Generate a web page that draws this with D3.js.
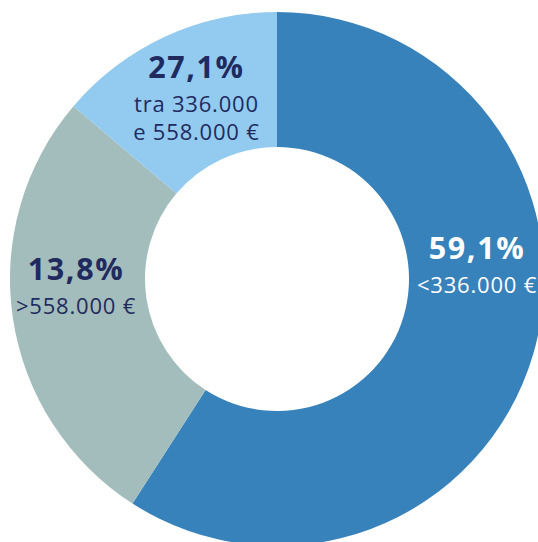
<!DOCTYPE html>
<html lang="it">
<head>
    <meta charset="UTF-8">
    <title>Donut</title>
    <script src="https://d3js.org/d3.v7.min.js"></script>
    <style>
        body { margin: 0; background: #fff; }
        svg { display: block; }
        .pct { font-family: "Open Sans", sans-serif; font-weight: 700; font-size: 30.5px; letter-spacing: 1.6px; text-anchor: middle; }
        .band { font-family: "Open Sans", sans-serif; font-weight: 400; font-size: 22px; letter-spacing: 0.8px; text-anchor: middle; }
    </style>
</head>
<body>
    <div id="chart"></div>
    <script>
        // slice sizes as drawn, clockwise from 12 o'clock
        const shares = [59.1, 27.1, 13.8];
        const colors = ["#3782bb", "#a3bcbc", "#93caf0"];
        // texts printed on each slice
        const pctLabels = ["59,1%", "13,8%", "27,1%"];
        const bandLabels = [["<336.000 €"], [">558.000 €"], ["tra 336.000", "e 558.000 €"]];
        const textColors = ["#ffffff", "#1f2b5e", "#1f2b5e"];
        // anchor of each label (baseline of the percentage): degrees clockwise from top, distance from centre
        const labelAngle = [84.4, 269.7, 338.2];
        const labelRadius = [201, 201, 217];

        const width = 538, height = 542;
        const cx = 277, cy = 279;
        const outerR = 267, innerR = 132;
        const firstGap = 34, lineH = 28;

        const svg = d3.select("#chart").append("svg")
            .attr("width", width)
            .attr("height", height);

        const g = svg.append("g").attr("transform", `translate(${cx},${cy})`);

        const pie = d3.pie().sort(null).value(d => d);
        const arc = d3.arc().innerRadius(innerR).outerRadius(outerR);

        g.selectAll("path")
            .data(pie(shares))
            .join("path")
            .attr("d", arc)
            .attr("fill", (d, i) => colors[i]);

        // labels
        shares.forEach((s, i) => {
            const [x, y] = d3.pointRadial(labelAngle[i] * Math.PI / 180, labelRadius[i]);
            const t = g.append("g").attr("fill", textColors[i]);
            t.append("text")
                .attr("class", "pct")
                .attr("x", x)
                .attr("y", y)
                .text(pctLabels[i]);
            bandLabels[i].forEach((txt, j) => {
                t.append("text")
                    .attr("class", "band")
                    .attr("x", x)
                    .attr("y", y + firstGap + j * lineH)
                    .text(txt);
            });
        });
    </script>
</body>
</html>
